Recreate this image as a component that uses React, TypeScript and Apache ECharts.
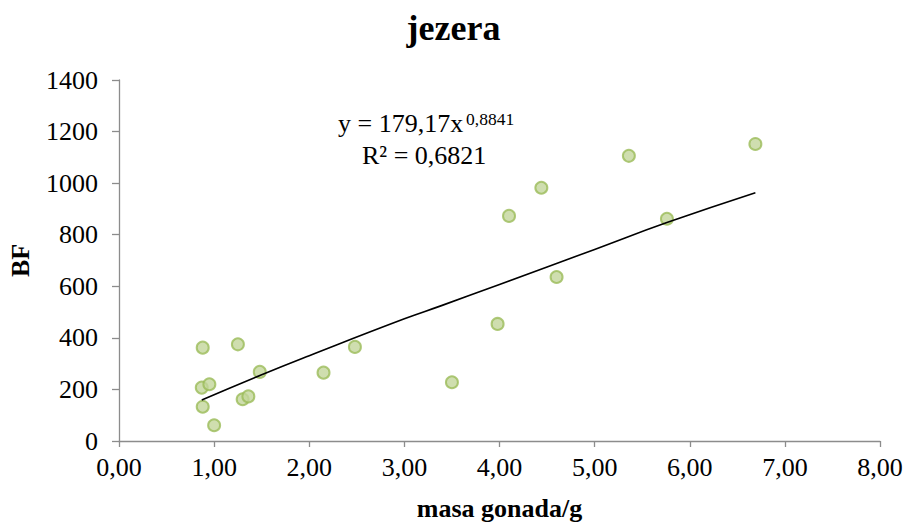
import React, { useEffect, useRef } from "react";
import * as echarts from "echarts";

const chartTitle = "jezera";
const xAxisName = "masa gonada/g";
const yAxisName = "BF";

const gonadMass = [0.88, 1.25, 0.87, 0.95, 0.88, 1.0, 1.48, 1.3, 1.36, 2.15, 2.48, 3.5, 3.98, 4.6, 4.1, 4.44, 5.36, 5.76, 6.69];
const bfValues = [362, 375, 207, 220, 133, 61, 268, 162, 173, 265, 365, 228, 454, 636, 873, 982, 1106, 862, 1152];

const trendX = [0.87, 1.5, 2.0, 3.0, 3.39, 4.0, 5.0, 5.76, 6.69];
const trendY = [159, 257, 331, 474, 525, 607, 743, 847, 963];

const equationLine = "y = 179,17x";
const equationExponent = "0,8841";
const rSquaredLine = "R² = 0,6821";

const FONT = "'Liberation Serif', 'Times New Roman', serif";

export default function App() {
  const ref = useRef<HTMLDivElement>(null);
  useEffect(() => {
    if (!ref.current) return;
    const chart = echarts.init(ref.current, null, { renderer: "svg" });
    const points = gonadMass.map((x, i) => [x, bfValues[i]]);
    const trend = trendX.map((x, i) => [x, trendY[i]]);
    chart.setOption({
      animation: false,
      backgroundColor: "#ffffff",
      title: {
        text: chartTitle,
        left: "center",
        top: 5,
        textStyle: { fontFamily: FONT, fontSize: 36, fontWeight: "bold", color: "#000" },
      },
      grid: { left: 119, right: 27, top: 80, bottom: 83, containLabel: false, outerBoundsMode: "none" },
      xAxis: {
        type: "value",
        min: 0,
        max: 8,
        interval: 1,
        name: xAxisName,
        nameLocation: "middle",
        nameGap: 54,
        nameTextStyle: { fontFamily: FONT, fontSize: 26, fontWeight: "bold", color: "#000" },
        axisLine: { show: true, lineStyle: { color: "#8c8c8c", width: 1.3 } },
        axisTick: { show: true, length: 6, lineStyle: { color: "#8c8c8c", width: 1.3 } },
        splitLine: { show: false },
        axisLabel: {
          fontFamily: FONT,
          fontSize: 26,
          color: "#000",
          margin: 13,
          formatter: (v: number) => v.toFixed(2).replace(".", ","),
        },
      },
      yAxis: {
        type: "value",
        min: 0,
        max: 1400,
        interval: 200,
        name: yAxisName,
        nameLocation: "middle",
        nameGap: 86,
        nameRotate: 90,
        nameTextStyle: { fontFamily: FONT, fontSize: 26, fontWeight: "bold", color: "#000" },
        axisLine: { show: true, lineStyle: { color: "#8c8c8c", width: 1.3 } },
        axisTick: { show: true, length: 7, lineStyle: { color: "#8c8c8c", width: 1.3 } },
        splitLine: { show: false },
        axisLabel: {
          fontFamily: FONT,
          fontSize: 26,
          color: "#000",
          margin: 21,
          formatter: (v: number) => String(v),
        },
      },
      series: [
        {
          type: "line",
          data: trend,
          smooth: true,
          showSymbol: false,
          symbol: "none",
          lineStyle: { color: "#000", width: 1.6 },
          z: 3,
        },
        {
          type: "scatter",
          data: points,
          symbol: "circle",
          symbolSize: 12,
          itemStyle: { color: "#c3d69b", borderColor: "#9bbb59", borderWidth: 2 },
          z: 2,
        },
      ],
      graphic: [
        {
          type: "text",
          left: 338,
          top: 110,
          style: { text: equationLine, fontFamily: FONT, fontSize: 26, fill: "#000" },
        },
        {
          type: "text",
          left: 466,
          top: 110,
          style: { text: equationExponent, fontFamily: FONT, fontSize: 17.5, fill: "#000" },
        },
        {
          type: "text",
          left: 362,
          top: 142,
          style: { text: rSquaredLine, fontFamily: FONT, fontSize: 26, fill: "#000" },
        },
      ],
    });
    return () => chart.dispose();
  }, []);
  return <div ref={ref} style={{ position: "fixed", left: 0, top: 0, width: 907, height: 524 }} />;
}
